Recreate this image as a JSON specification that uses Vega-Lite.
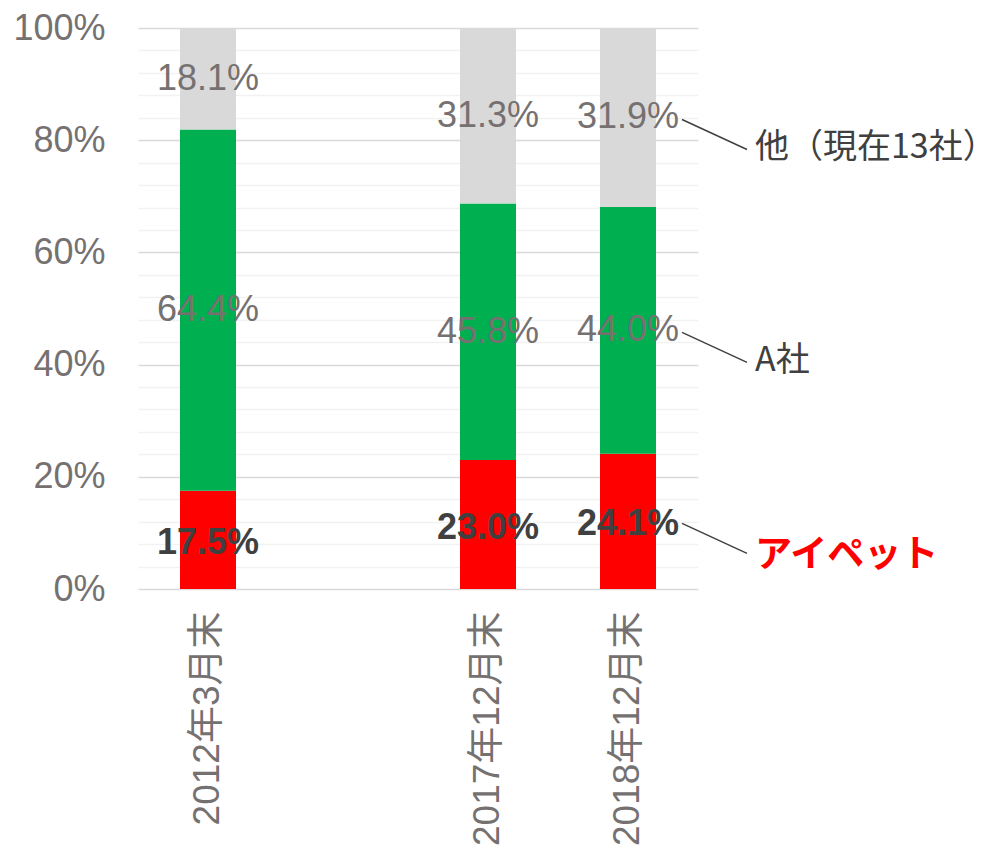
{
  "$schema": "https://vega.github.io/schema/vega-lite/v6.json",
  "width": 560,
  "height": 561,
  "autosize": {"type": "none"},
  "padding": {"left": 138, "top": 28, "right": 309, "bottom": 259},
  "background": "white",
  "config": {"view": {"stroke": null}, "font": "Liberation Sans, Noto Sans CJK JP, sans-serif"},
  "data": {
    "values": [
      {"period": "2012年3月末", "company": "アイペット", "k": 1, "value": 17.5, "label": "17.5%"},
      {"period": "2012年3月末", "company": "A社", "k": 2, "value": 64.4, "label": "64.4%"},
      {"period": "2012年3月末", "company": "他（現在13社）", "k": 3, "value": 18.1, "label": "18.1%"},
      {"period": "2017年12月末", "company": "アイペット", "k": 1, "value": 23.0, "label": "23.0%"},
      {"period": "2017年12月末", "company": "A社", "k": 2, "value": 45.8, "label": "45.8%"},
      {"period": "2017年12月末", "company": "他（現在13社）", "k": 3, "value": 31.3, "label": "31.3%"},
      {"period": "2018年12月末", "company": "アイペット", "k": 1, "value": 24.1, "label": "24.1%"},
      {"period": "2018年12月末", "company": "A社", "k": 2, "value": 44.0, "label": "44.0%"},
      {"period": "2018年12月末", "company": "他（現在13社）", "k": 3, "value": 31.9, "label": "31.9%"}
    ]
  },
  "encoding": {
    "x": {
      "field": "period",
      "type": "nominal",
      "title": null,
      "scale": {"domain": ["2012年3月末", " ", "2017年12月末", "2018年12月末"], "paddingInner": 0.6, "paddingOuter": 0.3},
      "axis": {
        "labelAngle": -90,
        "labelFontSize": 37,
        "labelColor": "#767171",
        "labelFont": "Liberation Sans, Noto Sans CJK JP, sans-serif",
        "labelLimit": 0,
        "ticks": false,
        "domain": false,
        "grid": false,
        "labelPadding": 22
      }
    },
    "y": {
      "field": "mid",
      "type": "quantitative",
      "title": null,
      "scale": {"domain": [0, 1]},
      "axis": {
        "values": [0, 0.04, 0.08, 0.12, 0.16, 0.2, 0.24, 0.28, 0.32, 0.36, 0.4, 0.44, 0.48, 0.52, 0.56, 0.6, 0.64, 0.68, 0.72, 0.76, 0.8, 0.84, 0.88, 0.92, 0.96, 1],
        "format": ".0%",
        "labelExpr": "round(datum.value*100) % 20 == 0 ? datum.label : ''",
        "labelOverlap": false,
        "labelFontSize": 36,
        "labelColor": "#767171",
        "labelFont": "Liberation Sans, sans-serif",
        "labelPadding": 33,
        "ticks": false,
        "domain": false,
        "gridWidth": 1.5,
        "gridColor": {"condition": {"test": "round(datum.value*100) % 20 == 0", "value": "#D9D9D9"}, "value": "#F2F2F2"}
      }
    }
  },
  "layer": [
    {
      "mark": {"type": "bar"},
      "encoding": {
        "y": {
          "field": "value",
          "type": "quantitative",
          "stack": "normalize",
          "title": null,
          "scale": {"domain": [0, 1]},
          "axis": {
            "values": [0, 0.04, 0.08, 0.12, 0.16, 0.2, 0.24, 0.28, 0.32, 0.36, 0.4, 0.44, 0.48, 0.52, 0.56, 0.6, 0.64, 0.68, 0.72, 0.76, 0.8, 0.84, 0.88, 0.92, 0.96, 1],
            "format": ".0%",
            "labelExpr": "round(datum.value*100) % 20 == 0 ? datum.label : ''",
            "labelOverlap": false,
            "labelFontSize": 36,
            "labelColor": "#767171",
            "labelFont": "Liberation Sans, sans-serif",
            "labelPadding": 33,
            "ticks": false,
            "domain": false,
            "gridWidth": 1.5,
            "gridColor": {"condition": {"test": "round(datum.value*100) % 20 == 0", "value": "#D9D9D9"}, "value": "#F2F2F2"}
          }
        },
        "color": {
          "field": "company",
          "type": "nominal",
          "scale": {"domain": ["アイペット", "A社", "他（現在13社）"], "range": ["#FF0000", "#00B050", "#D9D9D9"]},
          "legend": null
        },
        "order": {"field": "k", "type": "quantitative"}
      }
    },
    {
      "transform": [
        {"stack": "value", "groupby": ["period"], "sort": [{"field": "k", "order": "ascending"}], "offset": "normalize", "as": ["y0", "y1"]},
        {"fold": ["y0", "y1"], "as": ["edge", "pos"]},
        {"aggregate": [{"op": "mean", "field": "pos", "as": "mid"}], "groupby": ["period", "company", "k", "label"]},
        {"filter": "datum.k != 1"}
      ],
      "mark": {"type": "text", "fontSize": 36, "color": "#767171", "font": "Liberation Sans, sans-serif", "baseline": "middle"},
      "encoding": {
        "text": {"field": "label"}
      }
    },
    {
      "transform": [
        {"stack": "value", "groupby": ["period"], "sort": [{"field": "k", "order": "ascending"}], "offset": "normalize", "as": ["y0", "y1"]},
        {"fold": ["y0", "y1"], "as": ["edge", "pos"]},
        {"aggregate": [{"op": "mean", "field": "pos", "as": "mid"}], "groupby": ["period", "company", "k", "label"]},
        {"filter": "datum.k == 1"}
      ],
      "mark": {"type": "text", "fontSize": 36, "fontWeight": "bold", "color": "#404040", "font": "Liberation Sans, sans-serif", "baseline": "middle", "dy": 3},
      "encoding": {
        "text": {"field": "label"}
      }
    },
    {
      "transform": [
        {"stack": "value", "groupby": ["period"], "sort": [{"field": "k", "order": "ascending"}], "offset": "normalize", "as": ["y0", "y1"]},
        {"fold": ["y0", "y1"], "as": ["edge", "pos"]},
        {"aggregate": [{"op": "mean", "field": "pos", "as": "mid"}], "groupby": ["period", "company", "k", "label"]},
        {"filter": "datum.period == '2018年12月末'"}
      ],
      "mark": {"type": "rule", "color": "#404040", "strokeWidth": 1.5, "xOffset": 54, "x2Offset": 119, "yOffset": 2, "y2Offset": 32},
      "encoding": {
        "x2": {"field": "period"},
        "y2": {"field": "mid"}
      }
    },
    {
      "transform": [
        {"stack": "value", "groupby": ["period"], "sort": [{"field": "k", "order": "ascending"}], "offset": "normalize", "as": ["y0", "y1"]},
        {"fold": ["y0", "y1"], "as": ["edge", "pos"]},
        {"aggregate": [{"op": "mean", "field": "pos", "as": "mid"}], "groupby": ["period", "company", "k", "label"]},
        {"filter": "datum.period == '2018年12月末' && datum.k != 1"}
      ],
      "mark": {"type": "text", "fontSize": 34, "color": "#404040", "font": "Noto Sans CJK JP, sans-serif", "align": "left", "baseline": "middle", "dx": 127, "dy": 31},
      "encoding": {
        "text": {"field": "company"}
      }
    },
    {
      "transform": [
        {"stack": "value", "groupby": ["period"], "sort": [{"field": "k", "order": "ascending"}], "offset": "normalize", "as": ["y0", "y1"]},
        {"fold": ["y0", "y1"], "as": ["edge", "pos"]},
        {"aggregate": [{"op": "mean", "field": "pos", "as": "mid"}], "groupby": ["period", "company", "k", "label"]},
        {"filter": "datum.period == '2018年12月末' && datum.k == 1"}
      ],
      "mark": {"type": "text", "fontSize": 37, "fontWeight": "bold", "color": "#FF0000", "font": "Noto Sans CJK JP, sans-serif", "align": "left", "baseline": "middle", "dx": 127, "dy": 35},
      "encoding": {
        "text": {"field": "company"}
      }
    }
  ]
}
